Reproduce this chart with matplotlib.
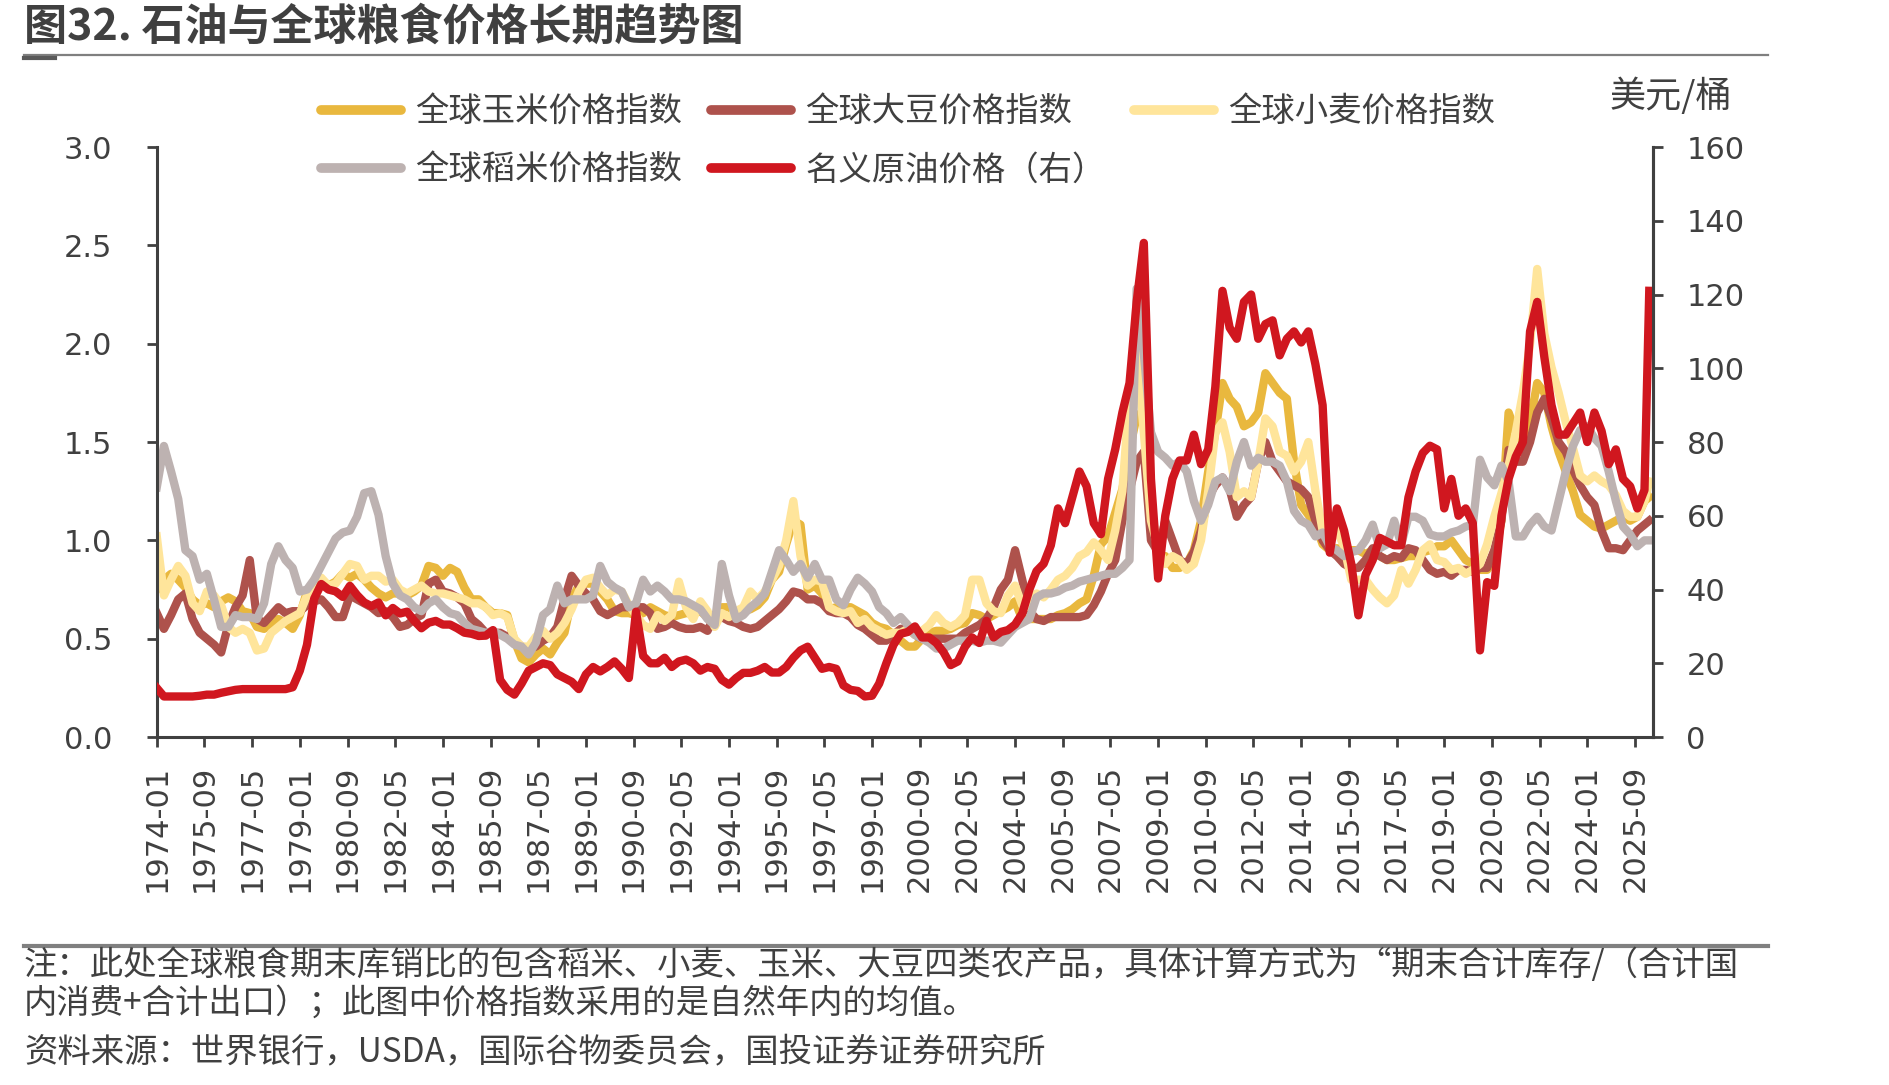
import matplotlib.pyplot as plt
import numpy as np
import pandas as pd
from matplotlib.lines import Line2D

plt.rcParams['font.family'] = ['Noto Sans CJK SC', 'DejaVu Sans']

# month index counted from 1974-01, read every 3 months, last point 2026-03
months = list(range(0, 625, 3)) + [626]

corn = [
    0.75, 0.80, 0.83, 0.80, 0.76, 0.70, 0.67, 0.68, 0.66, 0.69, 0.71, 0.69, 0.64, 0.63, 0.56, 0.55, 0.58, 0.60,
    0.58, 0.55, 0.62, 0.74, 0.79, 0.80, 0.77, 0.79, 0.83, 0.81, 0.83, 0.80, 0.76, 0.73, 0.71, 0.73, 0.73,
    0.72, 0.74, 0.77, 0.87, 0.86, 0.82, 0.86, 0.84, 0.76, 0.70, 0.70, 0.66, 0.63, 0.63, 0.62, 0.49, 0.40, 0.38,
    0.42, 0.45, 0.42, 0.48, 0.53, 0.70, 0.77, 0.78, 0.78, 0.74, 0.70, 0.64, 0.63, 0.63, 0.62, 0.63, 0.66,
    0.64, 0.62, 0.61, 0.62, 0.63, 0.63, 0.64, 0.61, 0.62, 0.66, 0.66, 0.63, 0.64, 0.65, 0.67, 0.71, 0.80, 0.84,
    0.98, 1.10, 1.08, 0.75, 0.77, 0.73, 0.65, 0.66, 0.66, 0.66, 0.64, 0.62, 0.58, 0.56, 0.55, 0.52, 0.49,
    0.46, 0.46, 0.50, 0.53, 0.54, 0.54, 0.55, 0.57, 0.58, 0.63, 0.62, 0.60, 0.62, 0.64, 0.66, 0.69, 0.60, 0.60,
    0.60, 0.60, 0.60, 0.62, 0.63, 0.65, 0.68, 0.70, 0.82, 0.98, 1.02, 1.14, 1.26, 1.46, 1.63, 1.66, 1.20,
    0.90, 0.92, 0.86, 0.86, 0.88, 0.95, 1.10, 1.35, 1.55, 1.80, 1.72, 1.68, 1.58, 1.60, 1.65, 1.85, 1.80, 1.75,
    1.72, 1.40, 1.18, 1.13, 1.08, 0.98, 0.95, 0.96, 0.95, 0.95, 0.95, 0.93, 0.95, 0.92, 0.90, 0.90, 0.91,
    0.92, 0.92, 0.94, 0.95, 0.97, 0.97, 1.00, 0.95, 0.90, 0.88, 0.85, 0.85, 0.90, 1.10, 1.65, 1.55, 1.50, 1.60,
    1.80, 1.75, 1.58, 1.45, 1.35, 1.25, 1.13, 1.10, 1.07, 1.06, 1.08, 1.10, 1.12, 1.10, 1.12, 1.20, 1.22,
]

soy = [
    0.63, 0.55, 0.62, 0.70, 0.73, 0.60, 0.53, 0.50, 0.47, 0.43, 0.57, 0.66, 0.72, 0.90, 0.60, 0.58, 0.62, 0.66,
    0.63, 0.64, 0.64, 0.67, 0.69, 0.70, 0.66, 0.61, 0.61, 0.72, 0.70, 0.68, 0.66, 0.63, 0.64, 0.61, 0.56,
    0.57, 0.60, 0.62, 0.78, 0.80, 0.74, 0.73, 0.71, 0.68, 0.60, 0.57, 0.53, 0.53, 0.53, 0.51, 0.49, 0.46, 0.45,
    0.46, 0.49, 0.51, 0.56, 0.70, 0.82, 0.77, 0.73, 0.70, 0.64, 0.62, 0.64, 0.66, 0.66, 0.66, 0.66, 0.63,
    0.55, 0.56, 0.58, 0.56, 0.55, 0.55, 0.56, 0.54, 0.62, 0.61, 0.59, 0.58, 0.56, 0.55, 0.56, 0.59, 0.62, 0.65,
    0.69, 0.74, 0.73, 0.70, 0.70, 0.68, 0.64, 0.63, 0.63, 0.61, 0.57, 0.55, 0.52, 0.49, 0.49, 0.52, 0.55,
    0.55, 0.52, 0.50, 0.50, 0.50, 0.50, 0.50, 0.50, 0.53, 0.55, 0.57, 0.60, 0.66, 0.75, 0.80, 0.95, 0.80, 0.64,
    0.60, 0.59, 0.61, 0.61, 0.61, 0.61, 0.61, 0.62, 0.67, 0.74, 0.83, 0.90, 1.10, 1.25, 1.40, 1.45, 1.00,
    0.94, 1.10, 1.00, 0.90, 0.88, 0.94, 1.05, 1.22, 1.28, 1.32, 1.26, 1.12, 1.18, 1.22, 1.40, 1.50, 1.40, 1.35,
    1.30, 1.28, 1.26, 1.22, 1.10, 1.00, 0.95, 0.92, 0.88, 0.86, 0.86, 0.90, 0.96, 0.92, 0.90, 0.92, 0.91,
    0.96, 0.95, 0.90, 0.85, 0.83, 0.84, 0.82, 0.85, 0.85, 0.84, 0.86, 0.86, 0.95, 1.10, 1.46, 1.40, 1.40, 1.50,
    1.65, 1.72, 1.62, 1.50, 1.45, 1.36, 1.28, 1.22, 1.18, 1.05, 0.96, 0.96, 0.95, 1.00, 1.05, 1.08, 1.10,
]

wheat = [
    1.02, 0.72, 0.80, 0.87, 0.82, 0.68, 0.64, 0.74, 0.72, 0.67, 0.56, 0.53, 0.55, 0.53, 0.44, 0.45, 0.53, 0.56,
    0.59, 0.61, 0.63, 0.72, 0.80, 0.81, 0.77, 0.78, 0.83, 0.88, 0.87, 0.80, 0.82, 0.82, 0.79, 0.80, 0.75,
    0.73, 0.75, 0.77, 0.74, 0.73, 0.73, 0.72, 0.71, 0.70, 0.68, 0.68, 0.66, 0.62, 0.63, 0.61, 0.50, 0.46, 0.46,
    0.51, 0.54, 0.50, 0.53, 0.58, 0.65, 0.74, 0.80, 0.81, 0.76, 0.72, 0.75, 0.74, 0.67, 0.62, 0.57, 0.55,
    0.62, 0.59, 0.62, 0.79, 0.66, 0.60, 0.69, 0.64, 0.56, 0.63, 0.61, 0.64, 0.66, 0.74, 0.70, 0.74, 0.80, 0.87,
    1.00, 1.20, 0.92, 0.77, 0.80, 0.79, 0.66, 0.64, 0.63, 0.64, 0.58, 0.60, 0.56, 0.54, 0.52, 0.53, 0.53,
    0.55, 0.52, 0.54, 0.57, 0.62, 0.58, 0.56, 0.58, 0.62, 0.80, 0.80, 0.68, 0.64, 0.63, 0.72, 0.77, 0.67, 0.66,
    0.73, 0.71, 0.75, 0.80, 0.82, 0.86, 0.92, 0.94, 0.99, 0.95, 0.90, 1.05, 1.25, 1.75, 1.95, 1.55, 1.10,
    0.96, 0.88, 0.92, 0.90, 0.85, 0.88, 1.00, 1.25, 1.55, 1.60, 1.45, 1.22, 1.25, 1.22, 1.40, 1.62, 1.58, 1.45,
    1.43, 1.35, 1.40, 1.50, 1.25, 1.05, 1.05, 1.05, 0.97, 0.80, 0.80, 0.80, 0.75, 0.71, 0.68, 0.72, 0.85,
    0.78, 0.85, 0.95, 0.98, 0.90, 0.89, 0.85, 0.86, 0.83, 0.85, 0.88, 0.98, 1.12, 1.24, 1.38, 1.55, 1.75, 2.00,
    2.38, 2.05, 1.88, 1.75, 1.60, 1.47, 1.33, 1.30, 1.33, 1.30, 1.28, 1.23, 1.15, 1.12, 1.12, 1.20, 1.30,
]

rice = [
    1.27, 1.48, 1.35, 1.21, 0.95, 0.92, 0.80, 0.83, 0.70, 0.56, 0.56, 0.62, 0.61, 0.61, 0.60, 0.68, 0.88, 0.97,
    0.90, 0.86, 0.74, 0.75, 0.80, 0.87, 0.94, 1.01, 1.04, 1.05, 1.12, 1.24, 1.25, 1.13, 0.92, 0.78, 0.72,
    0.70, 0.66, 0.64, 0.68, 0.70, 0.66, 0.63, 0.62, 0.58, 0.55, 0.54, 0.53, 0.54, 0.52, 0.50, 0.47, 0.46, 0.42,
    0.48, 0.62, 0.65, 0.77, 0.68, 0.70, 0.70, 0.70, 0.72, 0.87, 0.79, 0.76, 0.74, 0.66, 0.68, 0.80, 0.74,
    0.77, 0.74, 0.70, 0.70, 0.69, 0.67, 0.65, 0.60, 0.57, 0.88, 0.72, 0.60, 0.62, 0.66, 0.69, 0.73, 0.84, 0.95,
    0.90, 0.84, 0.88, 0.81, 0.88, 0.80, 0.80, 0.70, 0.67, 0.75, 0.81, 0.78, 0.74, 0.66, 0.63, 0.58, 0.61,
    0.57, 0.52, 0.50, 0.48, 0.45, 0.45, 0.47, 0.49, 0.49, 0.49, 0.48, 0.49, 0.49, 0.48, 0.52, 0.56, 0.58, 0.60,
    0.71, 0.73, 0.73, 0.74, 0.76, 0.77, 0.79, 0.80, 0.81, 0.82, 0.83, 0.83, 0.86, 0.90, 2.28, 1.95, 1.55,
    1.45, 1.42, 1.38, 1.40, 1.35, 1.20, 1.10, 1.18, 1.30, 1.32, 1.25, 1.40, 1.50, 1.38, 1.42, 1.40, 1.40, 1.38,
    1.30, 1.15, 1.10, 1.08, 1.02, 1.04, 0.97, 0.95, 0.92, 0.94, 0.95, 1.00, 1.08, 0.96, 0.98, 1.10, 0.98,
    1.12, 1.12, 1.10, 1.03, 1.02, 1.02, 1.04, 1.05, 1.07, 1.08, 1.41, 1.32, 1.28, 1.38, 1.30, 1.02, 1.02, 1.08,
    1.12, 1.07, 1.05, 1.20, 1.35, 1.48, 1.56, 1.58, 1.52, 1.48, 1.35, 1.20, 1.07, 1.03, 0.97, 1.00, 1.00,
]

oil = [
    13.3, 11.0, 11.0, 11.0, 11.0, 11.0, 11.2, 11.5, 11.5, 12.0, 12.4, 12.8, 13.0, 13.0, 13.0, 13.0, 13.0, 13.0,
    13.0, 13.5, 18.0, 25.0, 37.5, 41.5, 40.0, 39.5, 38.0, 41.0, 38.5, 36.5, 35.5, 36.5, 33.0, 35.0, 33.5,
    34.0, 31.5, 29.5, 31.0, 31.5, 30.5, 30.5, 29.5, 28.3, 28.0, 27.4, 27.5, 29.0, 15.5, 12.8, 11.5, 14.5, 18.0,
    19.0, 20.0, 19.5, 17.0, 16.0, 15.0, 13.0, 17.0, 19.0, 17.8, 19.0, 20.5, 18.5, 16.0, 34.0, 22.0, 20.0,
    20.0, 21.5, 19.0, 20.5, 21.0, 20.0, 18.0, 19.0, 18.5, 15.5, 14.2, 16.0, 17.4, 17.4, 18.0, 19.0, 17.5, 17.5,
    19.0, 21.5, 23.5, 24.5, 21.5, 18.5, 19.0, 18.5, 14.0, 12.8, 12.5, 11.0, 11.2, 14.5, 20.0, 25.0, 28.0,
    28.5, 30.0, 27.0, 27.0, 25.5, 23.0, 19.5, 20.5, 24.5, 27.0, 25.5, 31.5, 27.0, 28.5, 29.0, 30.5, 33.5, 40.0,
    45.0, 47.0, 52.0, 62.0, 58.0, 65.0, 72.0, 68.0, 58.0, 55.0, 70.0, 78.0, 88.0, 96.0, 118.0, 134.0, 70.0,
    43.0, 60.0, 70.0, 75.0, 75.0, 82.0, 74.0, 78.0, 95.0, 121.0, 111.0, 108.0, 118.0, 120.0, 108.0, 112.0, 113.0, 103.5,
    108.0, 110.0, 107.0, 110.0, 101.0, 90.0, 50.0, 62.0, 56.0, 47.0, 33.0, 44.0, 48.0, 54.0, 53.0, 52.0, 52.0,
    65.0, 72.0, 77.0, 79.0, 78.0, 62.0, 70.0, 60.0, 62.0, 58.0, 23.5, 42.0, 41.0, 60.0, 70.0, 76.0, 80.0, 110.0,
    118.0, 103.0, 90.0, 82.0, 82.0, 85.0, 88.0, 80.0, 88.0, 83.0, 74.0, 78.0, 70.0, 68.0, 62.0, 67.0, 121.0,
]

for name, s in [('corn', corn), ('soy', soy), ('wheat', wheat), ('rice', rice), ('oil', oil)]:
    if len(s) != len(months):
        raise ValueError(f'{name}: {len(s)} values, expected {len(months)}')

tick_pos = list(range(0, 621, 20))
all_months = pd.period_range('1974-01', periods=627, freq='M')
tick_labels = [str(all_months[i]) for i in tick_pos]

labels = ['全球玉米价格指数', '全球大豆价格指数', '全球小麦价格指数', '全球稻米价格指数', '名义原油价格（右）']
colors = ['#E9B83E', '#AE524C', '#FFE59B', '#BDB2B1', '#D0171F']
txt = '#404040'
lw = 6.0

fig = plt.figure(figsize=(18.89, 10.85), dpi=100)
ax = fig.add_axes([0.0830, 0.3207, 0.7921, 0.5438])
ax2 = ax.twinx()

for series, c in zip([corn, soy, wheat, rice], colors[:4]):
    ax.plot(months, series, color=c, lw=lw, solid_joinstyle='round')
ax2.plot(months, oil, color=colors[4], lw=lw, solid_joinstyle='round')

ax.set_xlim(0, 627.6)
ax.set_ylim(0, 3.0)
ax2.set_ylim(0, 160)
ax.set_yticks(np.arange(0, 3.01, 0.5))
ax.set_yticklabels([f'{v:.1f}' for v in np.arange(0, 3.01, 0.5)])
ax2.set_yticks(range(0, 161, 20))
ax.set_xticks(tick_pos)
ax.set_xticklabels(tick_labels, rotation=90)

for a in (ax, ax2):
    a.spines['top'].set_visible(False)
    for sp in a.spines.values():
        sp.set_color(txt)
        sp.set_linewidth(2.2)
ax2.spines['left'].set_visible(False)
ax2.spines['bottom'].set_visible(False)

ax.tick_params(axis='y', direction='out', length=7, width=2, color=txt, labelcolor=txt,
               labelsize=22, pad=25, labelfontfamily='DejaVu Sans')
ax2.tick_params(axis='y', direction='out', length=7, width=2, color=txt, labelcolor=txt,
                labelsize=22, pad=17, labelfontfamily='DejaVu Sans')
ax.tick_params(axis='x', direction='out', length=7, width=2, color=txt, labelcolor=txt,
               labelsize=22, pad=13, labelfontfamily='DejaVu Sans')

# legend, rows: corn / soy / wheat, then rice / oil
handles = [Line2D([], [], color=c, lw=7, solid_capstyle='round') for c in colors]
order = [0, 3, 1, 4, 2]
fig.legend([handles[i] for i in order], [labels[i] for i in order],
           loc='upper left', bbox_to_anchor=(0.170, 0.913), ncol=3, frameon=False,
           fontsize=24, labelcolor=txt, handlelength=2.4, handletextpad=0.43,
           columnspacing=0.85, labelspacing=0.69, borderpad=0, borderaxespad=0)

fig.text(0.852, 0.9115, '美元/桶', fontsize=26, color=txt, va='center', ha='left')

fig.text(0.0127, 0.9756, '图32. 石油与全球粮食价格长期趋势图', fontsize=31, fontweight='bold',
         color=txt, va='center', ha='left')
fig.add_artist(Line2D([0.0127, 0.936], [0.949, 0.949], color='#7F7F7F', lw=1.6,
                      transform=fig.transFigure))
fig.add_artist(Line2D([0.0127, 0.029], [0.947, 0.947], color='#595959', lw=3,
                      transform=fig.transFigure))
fig.add_artist(Line2D([0.0127, 0.936], [0.1281, 0.1281], color='#808080', lw=3,
                      transform=fig.transFigure))

fig.text(0.0127, 0.1097, '注：此处全球粮食期末库销比的包含稻米、小麦、玉米、大豆四类农产品，具体计算方式为“期末合计库存/（合计国',
         fontsize=24, color=txt, va='center', ha='left')
fig.text(0.0127, 0.0751, '内消费+合计出口）；此图中价格指数采用的是自然年内的均值。',
         fontsize=24, color=txt, va='center', ha='left')
fig.text(0.0127, 0.0304, '资料来源：世界银行，USDA，国际谷物委员会，国投证券证券研究所',
         fontsize=24, color=txt, va='center', ha='left', fontstyle='italic')

fig.savefig('out.png', dpi=100)
